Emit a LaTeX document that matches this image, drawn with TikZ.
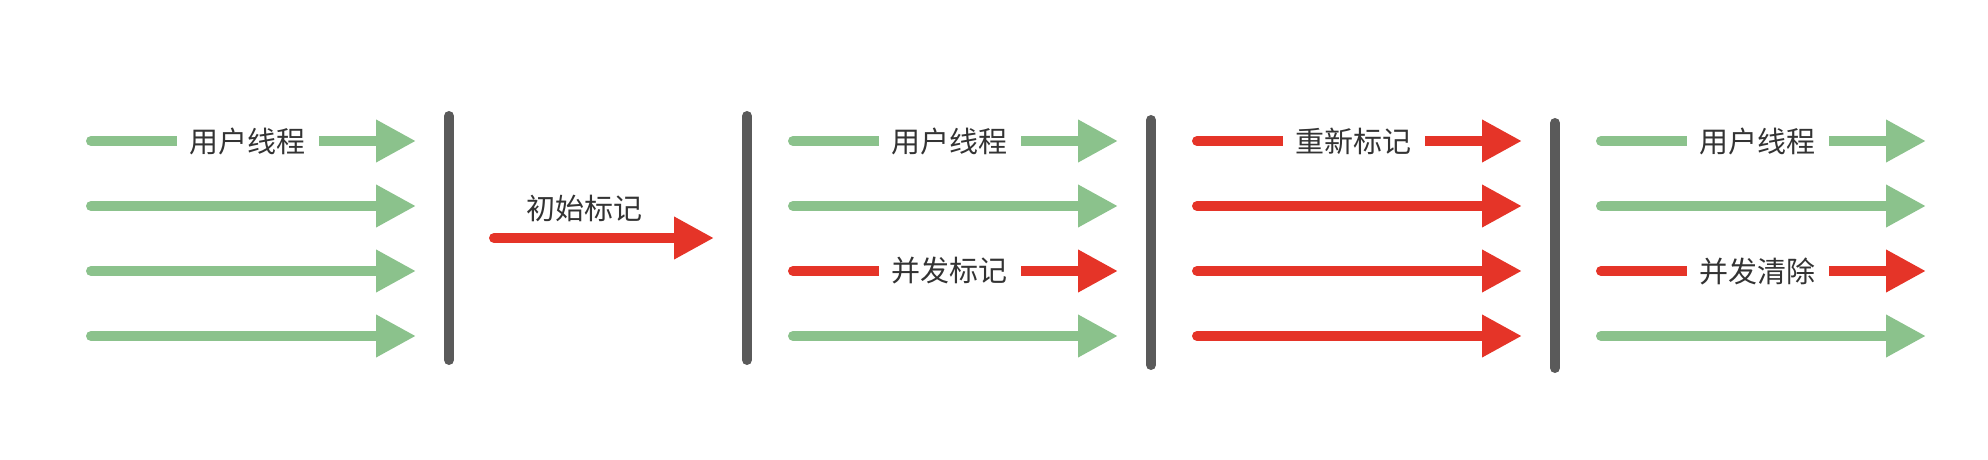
\documentclass[tikz,border=0pt]{standalone}
\usepackage{fontspec}
\newfontfamily\cjk{Noto Sans CJK SC}
\usepackage{tikz}
\usetikzlibrary{
  arrows.meta
}
\definecolor{gcgreen}{RGB}{139,194,140}
\definecolor{gcred}{RGB}{229,52,40}
\definecolor{gcgray}{RGB}{90,90,90}
\definecolor{gctext}{RGB}{51,51,51}
\tikzset{
  gcArrow/.style={
    line width=5pt,
    line cap=round,
    -{Triangle[length=20pt,width=20pt]}
  },
  gcGreen/.style={
    gcArrow,
    draw=gcgreen
  },
  gcRed/.style={
    gcArrow,
    draw=gcred
  },
  gcBar/.style={
    line width=5pt,
    line cap=round,
    draw=gcgray
  },
  gcText/.style={
    text=gctext,
    inner sep=0pt,
    font=\cjk\fontsize{14.5pt}{14.5pt}\selectfont
  },
  gcLabel/.style={
    gcText,
    fill=white,
    inner xsep=6.5pt,
    inner ysep=2pt,
    pos=0.483
  }
}

\begin{document}
\begin{tikzpicture}[x=0.5pt, y=-0.5pt]
  \useasboundingbox (0,0) rectangle (1988,460);

  % pauses
  \coordinate (p1t) at (449,116);  \coordinate (p1b) at (449,360);
  \coordinate (p2t) at (747,116);  \coordinate (p2b) at (747,360);
  \coordinate (p3t) at (1151,120); \coordinate (p3b) at (1151,365);
  \coordinate (p4t) at (1555,123); \coordinate (p4b) at (1555,368);
  \draw[gcBar] (p1t) -- (p1b);
  \draw[gcBar] (p2t) -- (p2b);
  \draw[gcBar] (p3t) -- (p3b);
  \draw[gcBar] (p4t) -- (p4b);

  % thread ends
  \foreach \g/\xs/\xe in {u/91/416, c/793/1118, r/1197/1522, s/1601/1926}
    \foreach \r/\y in {1/141, 2/206, 3/271, 4/336} {
      \coordinate (\g s\r) at (\xs,\y);
      \coordinate (\g e\r) at (\xe,\y);
    }

  % user threads
  \draw[gcGreen] (us1) -- node[gcLabel] (ulab) {用户线程} (ue1);
  \draw[gcGreen] (us2) -- (ue2);
  \draw[gcGreen] (us3) -- (ue3);
  \draw[gcGreen] (us4) -- (ue4);

  % initial mark
  \coordinate (is) at (494,238);
  \coordinate (ie) at (714,238);
  \draw[gcRed] (is) -- node[gcText, pos=0.41, yshift=15pt] (ilab) {初始标记} (ie);

  % concurrent mark
  \draw[gcGreen] (cs1) -- node[gcLabel] (culab) {用户线程} (ce1);
  \draw[gcGreen] (cs2) -- (ce2);
  \draw[gcRed] (cs3) -- node[gcLabel] (cmlab) {并发标记} (ce3);
  \draw[gcGreen] (cs4) -- (ce4);

  % remark
  \draw[gcRed] (rs1) -- node[gcLabel] (rlab) {重新标记} (re1);
  \draw[gcRed] (rs2) -- (re2);
  \draw[gcRed] (rs3) -- (re3);
  \draw[gcRed] (rs4) -- (re4);

  % concurrent sweep
  \draw[gcGreen] (ss1) -- node[gcLabel] (sulab) {用户线程} (se1);
  \draw[gcGreen] (ss2) -- (se2);
  \draw[gcRed] (ss3) -- node[gcLabel] (sslab) {并发清除} (se3);
  \draw[gcGreen] (ss4) -- (se4);
\end{tikzpicture}
\end{document}
